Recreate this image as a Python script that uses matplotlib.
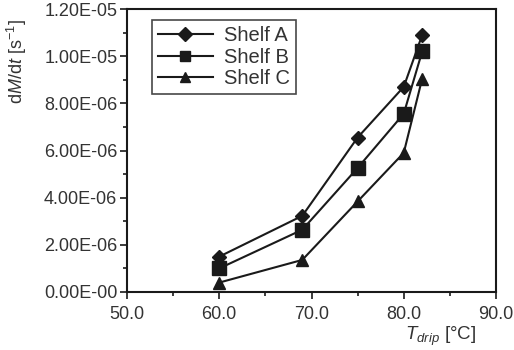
import matplotlib
matplotlib.use('Agg')
import matplotlib.pyplot as plt
from matplotlib.ticker import MultipleLocator, FuncFormatter

plt.rcParams['font.family'] = ['Liberation Sans', 'DejaVu Sans']
plt.rcParams['mathtext.fontset'] = 'custom'
plt.rcParams['mathtext.rm'] = 'Liberation Sans'
plt.rcParams['mathtext.it'] = 'Liberation Sans:italic'

# data
temp = [60.0, 69.0, 75.0, 80.0, 82.0]
shelf_a = [1.50e-6, 3.23e-6, 6.55e-6, 8.70e-6, 1.09e-5]
shelf_b = [1.00e-6, 2.64e-6, 5.26e-6, 7.56e-6, 1.02e-5]
shelf_c = [0.40e-6, 1.36e-6, 3.84e-6, 5.90e-6, 9.05e-6]
names = ['Shelf A', 'Shelf B', 'Shelf C']

fig = plt.figure(figsize=(5.14, 3.5), dpi=100)
ax = fig.add_axes([127 / 514, 1 - 292 / 350, 369 / 514, 283 / 350])

col = '#1a1a1a'
tcol = '#333333'
ax.plot(temp, shelf_a, color=col, lw=1.5, marker='D', ms=7, label=names[0])
ax.plot(temp, shelf_b, color=col, lw=1.5, marker='s', ms=10, label=names[1])
ax.plot(temp, shelf_c, color=col, lw=1.5, marker='^', ms=9, label=names[2])

ax.set_xlim(50, 90)
ax.set_ylim(0, 1.2e-5)
ax.xaxis.set_major_locator(MultipleLocator(10))
ax.xaxis.set_minor_locator(MultipleLocator(5))
ax.yaxis.set_major_locator(MultipleLocator(2e-6))
ax.yaxis.set_minor_locator(MultipleLocator(1e-6))
ax.xaxis.set_major_formatter(FuncFormatter(lambda v, p: '%.1f' % v))


def yfmt(v, p):
    if v == 0:
        return '0.00E-00'
    s = '%.2E' % v
    m, e = s.split('E')
    return m + 'E-' + e[1:].lstrip('+-').zfill(2)


ax.yaxis.set_major_formatter(FuncFormatter(yfmt))
ax.tick_params(which='both', direction='out', color=col, width=1.2,
               top=False, right=False, labelsize=13, labelcolor=tcol)
ax.tick_params(which='major', length=5, pad=2)
ax.tick_params(axis='x', which='major', pad=5)
ax.tick_params(which='minor', length=3)
for sp in ax.spines.values():
    sp.set_linewidth(1.5)
    sp.set_color(col)

fig.text(17 / 514, 1 - 62 / 350, r'd$M$/d$t$ [s$^{-1}$]', fontsize=13,
         color=tcol, rotation=90, ha='center', va='center')
fig.text(441 / 514, 2 / 350, r'$T_{drip}$ [°C]', fontsize=13.5,
         color=tcol, ha='center', va='bottom')

leg = ax.legend(loc='upper left', bbox_to_anchor=(0.068, 0.96), fontsize=14.5,
                frameon=True, fancybox=False, edgecolor=col, handlelength=2.7,
                borderpad=0.3, labelspacing=0.12, handletextpad=0.55,
                borderaxespad=0)
leg.get_frame().set_linewidth(1.2)
for t in leg.get_texts():
    t.set_color(tcol)
for h in leg.legend_handles:
    h.set_markersize(7)

fig.savefig('out.png', dpi=100)
